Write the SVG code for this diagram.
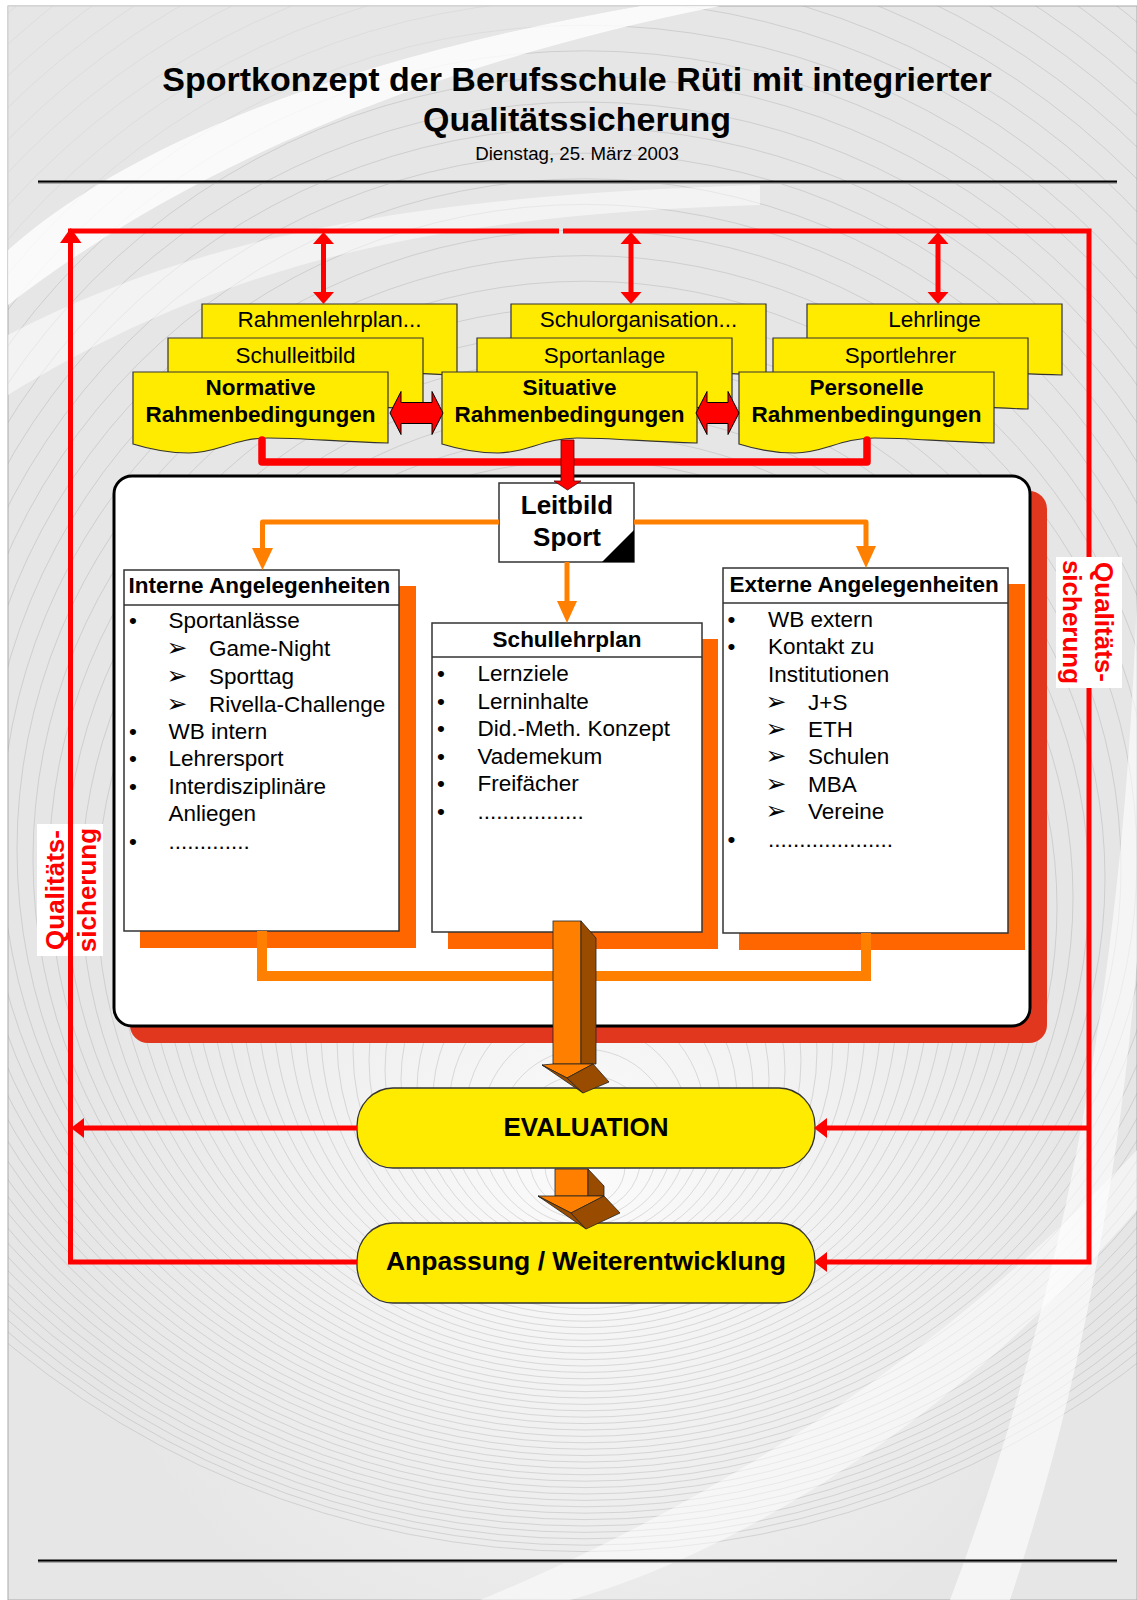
<svg xmlns="http://www.w3.org/2000/svg" width="1137" height="1600" viewBox="0 0 1137 1600">
<defs>
<style>
.t{font-family:'Liberation Sans',Arial,Helvetica,sans-serif;fill:#000}
.b{font-weight:bold}
.s22{font-size:22.5px}
.ctr{text-anchor:middle}
.doc{fill:#ffeb00;stroke:#333;stroke-width:1.2}
.box{fill:#fff;stroke:#333;stroke-width:1.5}
.osh{fill:#ff6600}
.rl{fill:none;stroke:#ff0000;stroke-width:5}
.rh{fill:#ff0000}
.ol{fill:none;stroke:#ff8000;stroke-width:5;stroke-linejoin:round}
.oh{fill:#ff8000}
.arr{font-family:'DejaVu Sans',sans-serif;font-size:25px;text-anchor:middle}
.ring{fill:none;stroke:#a0a0a0;stroke-width:0.6;opacity:0.55}
.pill{fill:#ffeb00;stroke:#333;stroke-width:1.3}
.q{font-family:'Liberation Sans',Arial,sans-serif;font-weight:bold;font-size:26px;fill:#ff0000;text-anchor:middle}
.fr{fill:#ff8000;stroke:#222;stroke-width:0.8}
.br{fill:#994c00;stroke:#222;stroke-width:0.8}
</style>
<path id="doc" d="M0,0 H255 V71 C204,70 173.4,66 135.2,66 C102,66 84.2,81 56.1,81 C30.6,81 12.8,76 0,72 Z"/>
<radialGradient id="glow" cx="585" cy="1180" r="520" gradientUnits="userSpaceOnUse">
<stop offset="0" stop-color="#fbfbfb"/>
<stop offset="1" stop-color="#fbfbfb" stop-opacity="0"/>
</radialGradient>
<clipPath id="page"><rect x="8" y="6" width="1129" height="1594"/></clipPath>
</defs>

<g id="background">
<rect width="1137" height="1600" fill="#fff"/>
<rect x="8" y="6" width="1129" height="1594" fill="#e6e6e6" stroke="#aaa" stroke-width="1"/>
<g clip-path="url(#page)">
<rect x="8" y="6" width="1129" height="1594" fill="url(#glow)"/>
<g class="ring">
<circle cx="585" cy="1166" r="40"/><circle cx="585" cy="1156.4" r="56"/><circle cx="585" cy="1146.8" r="72"/><circle cx="585" cy="1137.2" r="88"/>
<circle cx="585" cy="1127.6" r="104"/><circle cx="585" cy="1118" r="120"/><circle cx="585" cy="1108.4" r="136"/><circle cx="585" cy="1098.8" r="152"/>
<circle cx="585" cy="1089.2" r="168"/><circle cx="585" cy="1079.6" r="184"/><circle cx="585" cy="1070" r="200"/><circle cx="585" cy="1060.4" r="216"/>
<circle cx="585" cy="1050.8" r="232"/><circle cx="585" cy="1041.2" r="248"/><circle cx="585" cy="1031.6" r="264"/><circle cx="585" cy="1022" r="280"/>
<circle cx="585" cy="1012.4" r="296"/><circle cx="585" cy="1002.8" r="312"/><circle cx="585" cy="993.2" r="328"/><circle cx="585" cy="983.6" r="344"/>
<circle cx="585" cy="974" r="360"/><circle cx="585" cy="964.4" r="376"/><circle cx="585" cy="954.8" r="392"/><circle cx="585" cy="945.2" r="408"/>
<circle cx="585" cy="935.6" r="424"/><circle cx="585" cy="926" r="440"/><circle cx="585" cy="916.4" r="456"/><circle cx="585" cy="906.8" r="472"/>
<circle cx="585" cy="897.2" r="488"/><circle cx="585" cy="887.6" r="504"/><circle cx="585" cy="878" r="520"/><circle cx="585" cy="868.4" r="536"/>
<circle cx="585" cy="858.8" r="552"/><circle cx="585" cy="849.2" r="568"/><circle cx="585" cy="839.6" r="584"/><circle cx="585" cy="830" r="600"/>
<circle cx="585" cy="820.4" r="616"/><circle cx="585" cy="810.8" r="632"/><circle cx="585" cy="801.2" r="648"/><circle cx="585" cy="791.6" r="664"/>
<circle cx="585" cy="782" r="680"/><circle cx="585" cy="772.4" r="696"/><circle cx="585" cy="762.8" r="712"/><circle cx="585" cy="753.2" r="728"/>
<circle cx="585" cy="743.6" r="744"/><circle cx="585" cy="734" r="760"/><circle cx="585" cy="724.4" r="776"/><circle cx="585" cy="714.8" r="792"/>
<circle cx="585" cy="705.2" r="808"/><circle cx="585" cy="695.6" r="824"/><circle cx="585" cy="686" r="840"/><circle cx="585" cy="676.4" r="856"/>
<circle cx="585" cy="666.8" r="872"/><circle cx="585" cy="657.2" r="888"/><circle cx="585" cy="647.6" r="904"/>
</g>
<path d="M8,250 C120,150 330,60 640,6 L720,6 C400,70 170,180 8,305 Z" fill="#fff" opacity="0.8"/>
<path d="M8,335 C200,235 420,195 760,185 L760,205 C430,215 220,265 8,395 Z" fill="#fff" opacity="0.5"/>
<path d="M8,6 L640,6 C330,60 120,150 8,250 Z" fill="#e6e6e6" opacity="0.6"/>
<path d="M1137,250 C1150,700 1120,1150 950,1600 L1010,1600 C1160,1150 1165,700 1137,200 Z" fill="#fff" opacity="0.6"/>
<path d="M480,1600 C650,1530 900,1400 1137,1150 L1137,1210 C930,1450 700,1565 570,1600 Z" fill="#fff" opacity="0.5"/>
</g>
</g>

<g id="title">
<text class="t b ctr" x="577" y="91" font-size="34">Sportkonzept der Berufsschule Rüti mit integrierter</text>
<text class="t b ctr" x="577" y="131" font-size="34">Qualitätssicherung</text>
<text class="t ctr" x="577" y="160" font-size="18.7">Dienstag, 25. März 2003</text>
<line x1="38" y1="183" x2="1117" y2="183" stroke="#aaa" stroke-width="2"/>
<line x1="38" y1="181.5" x2="1117" y2="181.5" stroke="#000" stroke-width="2.2"/>
<line x1="38" y1="1562" x2="1117" y2="1562" stroke="#aaa" stroke-width="2"/>
<line x1="38" y1="1560.5" x2="1117" y2="1560.5" stroke="#000" stroke-width="2.2"/>
</g>

<g id="normative">
<use href="#doc" class="doc" x="202" y="304"/>
<text class="t s22 ctr" x="329.5" y="327">Rahmenlehrplan...</text>
<use href="#doc" class="doc" x="168" y="338"/>
<text class="t s22 ctr" x="295.5" y="363">Schulleitbild</text>
<use href="#doc" class="doc" x="133" y="372"/>
<text class="t s22 b ctr" x="260.5" y="395">Normative</text>
<text class="t s22 b ctr" x="260.5" y="422">Rahmenbedingungen</text>
</g>

<g id="situative">
<use href="#doc" class="doc" x="511" y="304"/>
<text class="t s22 ctr" x="638.5" y="327">Schulorganisation...</text>
<use href="#doc" class="doc" x="477" y="338"/>
<text class="t s22 ctr" x="604.5" y="363">Sportanlage</text>
<use href="#doc" class="doc" x="442" y="372"/>
<text class="t s22 b ctr" x="569.5" y="395">Situative</text>
<text class="t s22 b ctr" x="569.5" y="422">Rahmenbedingungen</text>
</g>

<g id="personelle">
<use href="#doc" class="doc" x="807" y="304"/>
<text class="t s22 ctr" x="934.5" y="327">Lehrlinge</text>
<use href="#doc" class="doc" x="773" y="338"/>
<text class="t s22 ctr" x="900.5" y="363">Sportlehrer</text>
<use href="#doc" class="doc" x="739" y="372"/>
<text class="t s22 b ctr" x="866.5" y="395">Personelle</text>
<text class="t s22 b ctr" x="866.5" y="422">Rahmenbedingungen</text>
</g>

<g id="container">
<rect x="130" y="491" width="917" height="552" rx="18" fill="#e2371f"/>
<rect x="114" y="476" width="916" height="550" rx="18" fill="#fff" stroke="#000" stroke-width="3"/>
</g>

<g id="interne">
<rect class="osh" x="140" y="586" width="276" height="362"/>
<rect class="box" x="124" y="570" width="275" height="361"/>
<line x1="124" y1="605" x2="399" y2="605" stroke="#333" stroke-width="1.5"/>
<text class="t s22 b" x="128.5" y="593">Interne Angelegenheiten</text>
<g class="t s22">
<text x="133" y="628" text-anchor="middle">•</text><text x="168.5" y="628">Sportanlässe</text>
<text class="arr" x="177" y="656">➢</text><text x="209" y="656">Game-Night</text>
<text class="arr" x="177" y="684">➢</text><text x="209" y="684">Sporttag</text>
<text class="arr" x="177" y="711.5">➢</text><text x="209" y="711.5">Rivella-Challenge</text>
<text x="133" y="738.5" text-anchor="middle">•</text><text x="168.5" y="738.5">WB intern</text>
<text x="133" y="766" text-anchor="middle">•</text><text x="168.5" y="766">Lehrersport</text>
<text x="133" y="793.5" text-anchor="middle">•</text><text x="168.5" y="793.5">Interdisziplinäre</text>
<text x="168.5" y="821">Anliegen</text>
<text x="133" y="848.5" text-anchor="middle">•</text><text x="168.5" y="848.5">.............</text>
</g>
</g>

<g id="schullehrplan">
<rect class="osh" x="448" y="639" width="270" height="310"/>
<rect class="box" x="432" y="623" width="270" height="309"/>
<line x1="432" y1="657" x2="702" y2="657" stroke="#333" stroke-width="1.5"/>
<text class="t s22 b ctr" x="567" y="646.5">Schullehrplan</text>
<g class="t s22">
<text x="441" y="681" text-anchor="middle">•</text><text x="477.5" y="681">Lernziele</text>
<text x="441" y="708.5" text-anchor="middle">•</text><text x="477.5" y="708.5">Lerninhalte</text>
<text x="441" y="736" text-anchor="middle">•</text><text x="477.5" y="736">Did.-Meth. Konzept</text>
<text x="441" y="763.5" text-anchor="middle">•</text><text x="477.5" y="763.5">Vademekum</text>
<text x="441" y="791" text-anchor="middle">•</text><text x="477.5" y="791">Freifächer</text>
<text x="441" y="818.5" text-anchor="middle">•</text><text x="477.5" y="818.5">.................</text>
</g>
</g>

<g id="externe">
<rect class="osh" x="739" y="584" width="286" height="366"/>
<rect class="box" x="723" y="568" width="285" height="365"/>
<line x1="723" y1="603" x2="1008" y2="603" stroke="#333" stroke-width="1.5"/>
<text class="t s22 b" x="729.5" y="591.5">Externe Angelegenheiten</text>
<g class="t s22">
<text x="731.5" y="626.5" text-anchor="middle">•</text><text x="768" y="626.5">WB extern</text>
<text x="731.5" y="654" text-anchor="middle">•</text><text x="768" y="654">Kontakt zu</text>
<text x="768" y="681.5">Institutionen</text>
<text class="arr" x="776" y="709.5">➢</text><text x="808" y="709.5">J+S</text>
<text class="arr" x="776" y="737">➢</text><text x="808" y="737">ETH</text>
<text class="arr" x="776" y="764">➢</text><text x="808" y="764">Schulen</text>
<text class="arr" x="776" y="791.5">➢</text><text x="808" y="791.5">MBA</text>
<text class="arr" x="776" y="819">➢</text><text x="808" y="819">Vereine</text>
<text x="731.5" y="846.5" text-anchor="middle">•</text><text x="768" y="846.5">....................</text>
</g>
</g>

<g id="leitbild">
<rect class="box" x="499" y="483" width="135" height="79"/>
<polygon points="602,562 634,562 634,530" fill="#000"/>
<text class="t b ctr" x="567" y="514" font-size="26">Leitbild</text>
<text class="t b ctr" x="567" y="546" font-size="26">Sport</text>
</g>

<g id="evaluation">
<rect class="pill" x="357" y="1088" width="458" height="80" rx="36" ry="38"/>
<text class="t b ctr" x="586" y="1136" font-size="26">EVALUATION</text>
</g>

<g id="anpassung">
<rect class="pill" x="357" y="1223" width="458" height="80" rx="36" ry="38"/>
<text class="t b ctr" x="586" y="1270" font-size="26.5">Anpassung / Weiterentwicklung</text>
</g>

<g id="qs-left">
<rect x="37" y="824" width="66" height="132" fill="#fff"/>
<g transform="translate(70,890) rotate(-90)">
<text class="q" x="0" y="-6">Qualitäts-</text>
<text class="q" x="0" y="26">sicherung</text>
</g>
</g>

<g id="connectors">
<path class="rl" d="M68,231 H559"/>
<path class="rl" d="M563,231 H1089 V1262 H826"/>
<path class="rl" d="M357,1262 H70.5 V241"/>
<polygon class="rh" points="70.7,228 81.5,243 60,243"/>
<path class="rl" d="M357,1128 H83"/>
<polygon class="rh" points="71,1128 84,1118 84,1138"/>
<path class="rl" d="M1089,1128 H826"/>
<polygon class="rh" points="814,1128 827,1118 827,1138"/>
<polygon class="rh" points="814,1262 827,1252 827,1272"/>
<path class="rl" d="M323.5,242 V293 M631,242 V293 M938,242 V293"/>
<polygon class="rh" points="323.5,232 334,244 313,244"/>
<polygon class="rh" points="323.5,304 334,292 313,292"/>
<polygon class="rh" points="631,232 641.5,244 620.5,244"/>
<polygon class="rh" points="631,304 641.5,292 620.5,292"/>
<polygon class="rh" points="938,232 948.5,244 927.5,244"/>
<polygon class="rh" points="938,304 948.5,292 927.5,292"/>
<polygon points="390,413 401,391.5 401,402.5 432,402.5 432,391.5 443,413 432,434.5 432,423.5 401,423.5 401,434.5" fill="#ff0000" stroke="#000" stroke-width="1"/>
<polygon points="696,413 707,391.5 707,402.5 728,402.5 728,391.5 739,413 728,434.5 728,423.5 707,423.5 707,434.5" fill="#ff0000" stroke="#000" stroke-width="1"/>
<path d="M262,440 V462 H867 V440" fill="none" stroke="#ff0000" stroke-width="7.5" stroke-linejoin="round" stroke-linecap="round"/>
<polygon points="561,440 574,440 574,481 581,481 567.5,490 554,481 561,481" fill="#ff0000" stroke="#600" stroke-width="0.8"/>
<path class="ol" d="M499,522 H262.5 V549"/>
<polygon class="oh" points="252,548 273,548 262.5,570"/>
<path class="ol" d="M634,522 H866 V547"/>
<polygon class="oh" points="856,546 876,546 866,568"/>
<path class="ol" d="M567,562 V602"/>
<polygon class="oh" points="557,601 577,601 567,623"/>
<path d="M262,931 V976 H866 V933" fill="none" stroke="#ff8000" stroke-width="10"/>
<rect class="fr" x="553" y="921" width="28" height="143"/>
<polygon class="br" points="581,921 596,938 596,1064 581,1064"/>
<polygon class="fr" points="542,1065 553,1064 593,1064 567,1078"/>
<polygon class="br" points="542,1065 567,1078 583,1093"/>
<polygon class="br" points="567,1078 593,1064 609,1082 583,1093"/>
<rect class="fr" x="555" y="1169" width="33" height="27"/>
<polygon class="br" points="588,1169 604,1186 604,1196 588,1196"/>
<polygon class="fr" points="538,1196 555,1196 604,1196 571,1213"/>
<polygon class="br" points="538,1196 571,1213 586,1229"/>
<polygon class="br" points="571,1213 604,1196 620,1213 586,1229"/>
</g>

<g id="qs-right">
<rect x="1056" y="557" width="66" height="131" fill="#fff"/>
<g transform="translate(1089,622) rotate(90)">
<text class="q" x="0" y="-6">Qualitäts-</text>
<text class="q" x="0" y="26">sicherung</text>
</g>
</g>
</svg>
